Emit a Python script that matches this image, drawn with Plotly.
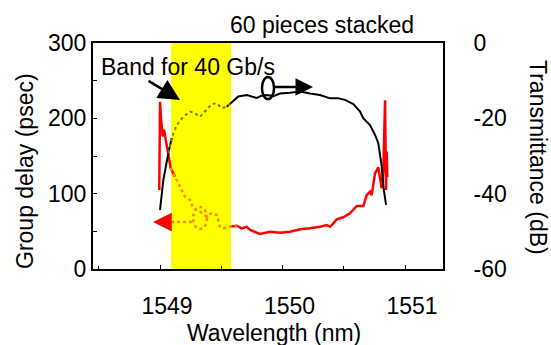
import numpy as np
import plotly.graph_objects as go

# ---- data ----
trans_wl = [1549.000, 1549.027, 1549.068, 1549.096, 1549.136, 1549.190, 1549.245, 1549.286,
            1549.327, 1549.367, 1549.422, 1549.463, 1549.504, 1549.545, 1549.585, 1549.639,
            1549.708, 1549.749, 1549.789, 1549.830, 1549.871, 1549.925, 1549.980, 1550.061,
            1550.143, 1550.224, 1550.306, 1550.388, 1550.456, 1550.510, 1550.578, 1550.633,
            1550.660, 1550.714, 1550.755, 1550.782, 1550.796, 1550.810, 1550.823, 1550.845]
trans_db = [-44.3, -36.4, -29.2, -25.2, -21.8, -19.6, -18.2, -18.7,
            -19.6, -18.2, -16.2, -16.0, -17.3, -16.9, -15.8, -14.2,
            -13.8, -14.2, -14.6, -14.0, -13.8, -14.1, -13.4, -13.2,
            -12.9, -13.4, -13.8, -14.7, -14.7, -15.1, -16.2, -18.2,
            -20.0, -21.8, -24.4, -26.6, -29.3, -32.8, -38.1, -43.0]

gd_wl = [1548.994, 1549.000, 1549.008, 1549.022, 1549.033, 1549.055, 1549.087, 1549.122,
         1549.163, 1549.204, 1549.245, 1549.272, 1549.327, 1549.381, 1549.422, 1549.463,
         1549.490, 1549.517, 1549.571, 1549.626, 1549.667, 1549.708, 1549.735, 1549.775,
         1549.816, 1549.898, 1549.980, 1550.061, 1550.143, 1550.224, 1550.306, 1550.361,
         1550.388, 1550.415, 1550.442, 1550.496, 1550.551, 1550.606, 1550.660, 1550.687,
         1550.714, 1550.728, 1550.755, 1550.782, 1550.796, 1550.810, 1550.823, 1550.837,
         1550.845, 1550.851, 1550.855]
gd_ps = [105, 222, 200, 176, 185, 162, 134, 122.6,
         109, 96, 91.6, 80.6, 76, 69.5, 74, 71.7,
         56, 54, 56, 57.5, 54, 56, 51.8, 49,
         46.5, 49.5, 48, 49.5, 52.7, 54, 56, 58.4,
         56, 60.6, 66, 68.6, 74, 83.7, 83.7, 98,
         102.7, 98, 127, 135, 118, 107, 131, 224,
         105, 156, 122]

band_lo, band_hi = 1549.09, 1549.58
x_ticks = [1549, 1550, 1551]
y_left_ticks = [0, 100, 200, 300]
y_right_ticks = [-60, -40, -20, 0]

FONT = "Liberation Sans, Arial, sans-serif"
FS = 23


def split(xs, ys):
    xs = np.asarray(xs, float)
    ys = np.asarray(ys, float)
    inside = (xs >= band_lo) & (xs <= band_hi)
    idx = np.where(inside)[0]
    lo, hi = idx.min(), idx.max()
    pre = (xs[:lo + 1], ys[:lo + 1])
    mid = (xs[max(lo - 1, 0):hi + 2], ys[max(lo - 1, 0):hi + 2])
    post = (xs[hi:], ys[hi:])
    return pre, mid, post


fig = go.Figure()

t_pre, t_mid, t_post = split(trans_wl, trans_db)
g_pre, g_mid, g_post = split(gd_wl, gd_ps)

for seg in (g_pre, g_post):
    fig.add_trace(go.Scatter(x=seg[0], y=seg[1], mode="lines", yaxis="y",
                             line=dict(color="#ff0000", width=2.5), showlegend=False,
                             hoverinfo="skip"))
fig.add_trace(go.Scatter(x=g_mid[0], y=g_mid[1], mode="lines", yaxis="y",
                         line=dict(color="#ff8c00", width=2.5, dash="dot"), showlegend=False,
                         hoverinfo="skip"))
for seg in (t_pre, t_post):
    fig.add_trace(go.Scatter(x=seg[0], y=seg[1], mode="lines", yaxis="y2",
                             line=dict(color="#000000", width=2), showlegend=False,
                             hoverinfo="skip"))
fig.add_trace(go.Scatter(x=t_mid[0], y=t_mid[1], mode="lines", yaxis="y2",
                         line=dict(color="#808000", width=2, dash="dot"), showlegend=False,
                         hoverinfo="skip"))

# plot area in pixels: x 93..443, y 43..269
L, R, T, B = 93, 443, 43, 269
W, H = R - L, B - T


def px(x):
    return (x - L) / W


def py(y):
    return (B - y) / H


shapes = [
    dict(type="rect", xref="x", yref="paper", x0=band_lo, x1=band_hi, y0=0, y1=1,
         fillcolor="#ffff00", line=dict(width=0), layer="below"),
    dict(type="circle", xref="paper", yref="paper", x0=px(262), x1=px(274), y0=py(99), y1=py(77),
         line=dict(color="black", width=2.5)),
    dict(type="line", xref="paper", yref="paper", x0=px(274), x1=px(298), y0=py(87), y1=py(87),
         line=dict(color="black", width=2.5)),
    dict(type="circle", xref="paper", yref="paper", x0=px(193), x1=px(207), y0=py(229), y1=py(207),
         line=dict(color="#ff8c00", width=2.5, dash="dot")),
    dict(type="line", xref="paper", yref="paper", x0=px(171), x1=px(193), y0=py(222), y1=py(222),
         line=dict(color="#ff8c00", width=2.5, dash="dot")),
]


def label(text, x, y, angle=0):
    return dict(text=text, x=px(x), y=py(y), xref="paper", yref="paper",
                xanchor="center", yanchor="middle", showarrow=False, textangle=angle,
                font=dict(size=FS, color="black", family=FONT))


def arrow(x, y, ax, ay, size, color):
    return dict(text="", x=px(x), y=py(y), xref="paper", yref="paper", ax=ax, ay=ay,
                showarrow=True, arrowhead=2, arrowsize=size, arrowwidth=2.5, arrowcolor=color)


annotations = [
    label("60 pieces stacked", 322, 25),
    label("Band for 40 Gb/s", 188, 67),
    arrow(180, 100, -33, -20, 1.7, "black"),
    arrow(313, 87, -18, 0, 1.4, "black"),
    arrow(153, 222, 19, 0, 1.5, "#ff0000"),
    label("Wavelength (nm)", 274, 333),
    label("Group delay (psec)", 25, 171, -90),
    label("Transmittance (dB)", 538, 157, 90),
]

fig.update_layout(
    template="none",
    width=551, height=345,
    margin=dict(l=L, r=551 - R, t=T, b=345 - B, pad=0, autoexpand=False),
    paper_bgcolor="white", plot_bgcolor="white",
    font=dict(family=FONT, size=FS, color="black"),
    showlegend=False,
    shapes=shapes,
    annotations=annotations,
    xaxis=dict(range=[1548.453, 1551.31], tickvals=x_ticks, ticktext=[str(v) for v in x_ticks],
               ticks="inside", ticklen=4, tickwidth=1, tickcolor="black",
               minor=dict(dtick=0.5, tick0=1549, ticks="inside", ticklen=3, tickcolor="black"),
               showline=True, linecolor="black", linewidth=2, mirror=True,
               showgrid=False, zeroline=False, ticklabelstandoff=15, ticklabelshift=7,
               automargin=False, tickfont=dict(size=FS)),
    yaxis=dict(range=[0, 300], tickvals=y_left_ticks, ticks="inside", ticklen=4,
               tickcolor="black",
               minor=dict(dtick=50, ticks="inside", ticklen=4, tickcolor="black"),
               showline=True, linecolor="black", linewidth=2, mirror=False,
               showgrid=False, zeroline=False, ticklabelstandoff=0,
               automargin=False, tickfont=dict(size=FS)),
    yaxis2=dict(range=[-60, 0], tickvals=y_right_ticks,
                ticktext=[str(v) for v in y_right_ticks], overlaying="y", side="right",
                ticks="", showline=True, linecolor="black", linewidth=2,
                showgrid=False, zeroline=False, ticklabelstandoff=24,
                automargin=False, tickfont=dict(size=FS)),
)

fig.write_html("out.html", config={"displayModeBar": False},
               post_script="document.body.style.margin='0';document.body.style.padding='0';")
